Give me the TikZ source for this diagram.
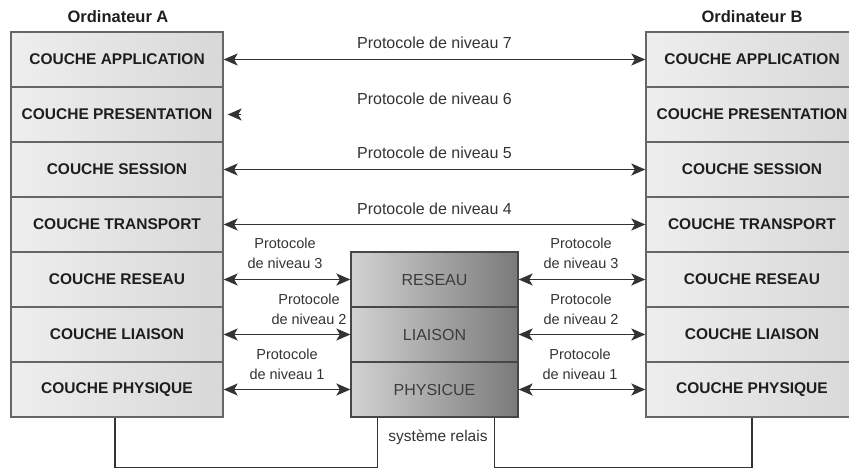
\documentclass[tikz,border=0pt]{standalone}
\usepackage{fontspec}
\setmainfont{Liberation Sans}
\usetikzlibrary{arrows.meta,calc}
\definecolor{edge}{HTML}{666666}
\definecolor{boxL}{HTML}{EEEEEE}
\definecolor{boxR}{HTML}{D8D8D8}
\definecolor{relL}{HTML}{D2D2D2}
\definecolor{relR}{HTML}{7A7A7A}
\definecolor{ink}{HTML}{1E1E1E}
\definecolor{soft}{HTML}{333333}
\definecolor{relTxt}{HTML}{3C3C3C}
\begin{document}
\begin{tikzpicture}[x=1pt,y=-1pt,
  layer/.style={draw=edge, line width=1.3pt, minimum width=212pt, minimum height=55pt,
    inner sep=0pt, left color=boxL, right color=boxR, text=ink,
    font=\fontsize{15.5}{17}\selectfont\bfseries},
  relay/.style={draw=edge!70!black, line width=1.3pt, minimum width=167pt, minimum height=55pt,
    inner sep=0pt, left color=relL, right color=relR, text=relTxt,
    font=\fontsize{16}{18}\selectfont},
  title/.style={font=\fontsize{16.5}{18}\selectfont\bfseries, text=ink},
  proto/.style={font=\fontsize{14.5}{20}\selectfont, text=soft, align=center, inner sep=0pt},
  protowide/.style={proto, font=\fontsize{16}{20}\selectfont},
  tiptype/.tip={Stealth[length=14pt,width=12pt,inset=3.5pt]},
  link/.style={tiptype-tiptype, line width=1.8pt, draw=soft},
  onehead/.style={-tiptype, line width=1.8pt, draw=soft},
  wire/.style={line width=1.3pt, draw=soft}]
\useasboundingbox (0,0) rectangle (849,472);
\clip (0,0) rectangle (849,472);

% column titles
\node[title] (titleA) at (118,17) {Ordinateur A};
\node[title] (titleB) at (752,17) {Ordinateur B};

% computer A stack
\node[layer] (A7) at (117,59.5)  {COUCHE APPLICATION};
\node[layer] (A6) at (117,114.5) {COUCHE PRESENTATION};
\node[layer] (A5) at (117,169.5) {COUCHE SESSION};
\node[layer] (A4) at (117,224.5) {COUCHE TRANSPORT};
\node[layer] (A3) at (117,279.5) {COUCHE RESEAU};
\node[layer] (A2) at (117,334.5) {COUCHE LIAISON};
\node[layer] (A1) at (117,389.5) {COUCHE PHYSIQUE};

% computer B stack
\node[layer] (B7) at (752,59.5)  {COUCHE APPLICATION};
\node[layer] (B6) at (752,114.5) {COUCHE PRESENTATION};
\node[layer] (B5) at (752,169.5) {COUCHE SESSION};
\node[layer] (B4) at (752,224.5) {COUCHE TRANSPORT};
\node[layer] (B3) at (752,279.5) {COUCHE RESEAU};
\node[layer] (B2) at (752,334.5) {COUCHE LIAISON};
\node[layer] (B1) at (752,389.5) {COUCHE PHYSIQUE};

% relay system
\node[relay] (R3) at (434.5,279.5) {RESEAU};
\node[relay] (R2) at (434.5,334.5) {LIAISON};
\node[relay] (R1) at (434.5,389.5) {PHYSICUE};

% end-to-end protocols
\draw[link] (A7.east) -- (B7.west);
\node[protowide] (p7) at (434.5,43) {Protocole de niveau 7};
\coordinate (t6) at ($(A6.east)+(17,0)$);
\draw[onehead] (t6) -- ($(A6.east)+(4,0)$);
\node[protowide] (p6) at (434.5,99) {Protocole de niveau 6};
\draw[link] (A5.east) -- (B5.west);
\node[protowide] (p5) at (434.5,153) {Protocole de niveau 5};
\draw[link] (A4.east) -- (B4.west);
\node[protowide] (p4) at (434.5,209) {Protocole de niveau 4};

% hop-by-hop protocols, side A
\draw[link] (A3.east) -- (R3.west);
\node[proto] (pa3) at (285,253) {Protocole\\de niveau 3};
\draw[link] (A2.east) -- (R2.west);
\node[proto] (pa2) at (309,309) {Protocole\\de niveau 2};
\draw[link] (A1.east) -- (R1.west);
\node[proto] (pa1) at (287,364.5) {Protocole\\de niveau 1};

% hop-by-hop protocols, side B
\draw[link] (R3.east) -- (B3.west);
\node[proto] (pb3) at (581,253) {Protocole\\de niveau 3};
\draw[link] (R2.east) -- (B2.west);
\node[proto] (pb2) at (581,309) {Protocole\\de niveau 2};
\draw[link] (R1.east) -- (B1.west);
\node[proto] (pb1) at (580,364.5) {Protocole\\de niveau 1};

% physical media
\draw[wire] ([xshift=-2pt]A1.south) -- ++(0,50) -| ([xshift=27pt]R1.south west);
\draw[wire] ([xshift=-24pt]R1.south east) -- ++(0,50) -| (B1.south);
\node[proto, font=\fontsize{15.5}{18}\selectfont] (relais) at (438,437) {système relais};
\end{tikzpicture}
\end{document}
